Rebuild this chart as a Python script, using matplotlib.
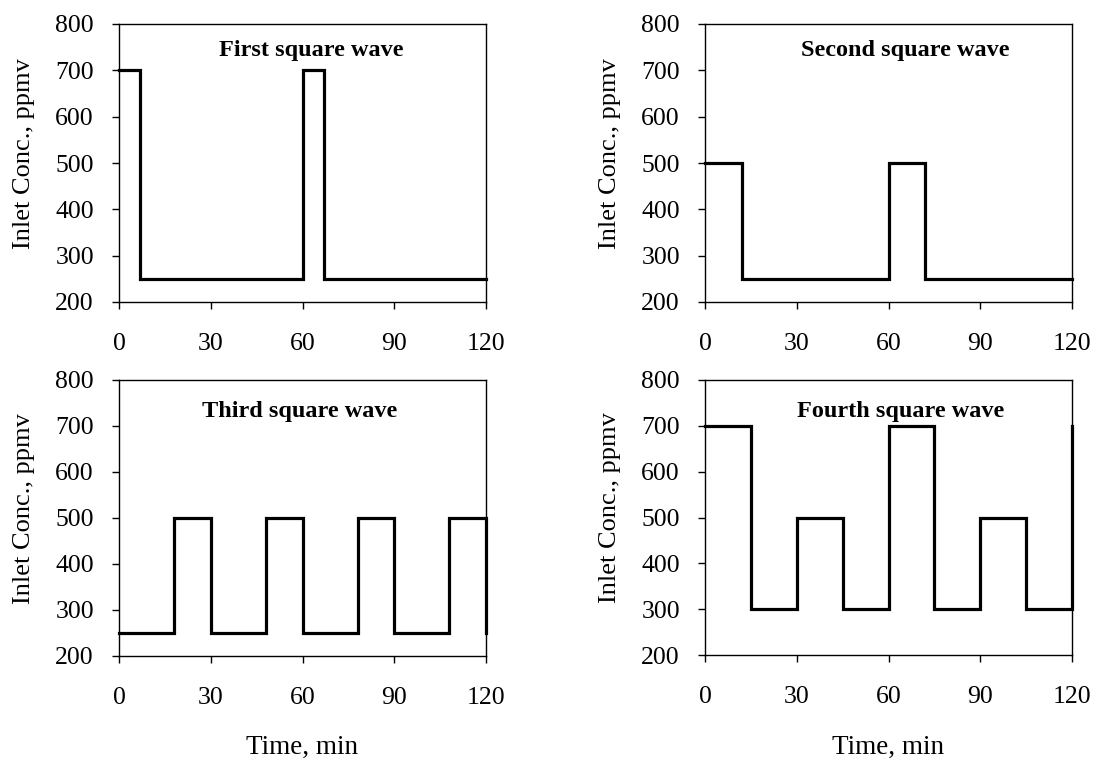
import matplotlib
matplotlib.use("Agg")
import matplotlib.pyplot as plt

plt.rcParams['font.family'] = ['Liberation Serif', 'DejaVu Serif']

# Square-wave inlet concentration profiles (time in min, concentration in ppmv)
t_first = [0, 7, 60, 67, 120]
c_first = [700, 250, 700, 250, 250]

t_second = [0, 12, 60, 72, 120]
c_second = [500, 250, 500, 250, 250]

t_third = [0, 18, 30, 48, 60, 78, 90, 108, 120]
c_third = [250, 500, 250, 500, 250, 500, 250, 500, 250]

t_fourth = [0, 15, 30, 45, 60, 75, 90, 105, 120]
c_fourth = [700, 300, 500, 300, 700, 300, 500, 300, 700]

titles = ["First square wave", "Second square wave",
          "Third square wave", "Fourth square wave"]
x_ticks = [0, 30, 60, 90, 120]
y_ticks = [200, 300, 400, 500, 600, 700, 800]

W, H = 1097, 762
fig = plt.figure(figsize=(W / 100, H / 100), dpi=100)

# panel boxes in pixels: left, top, right, bottom
boxes = [(119, 24, 486, 302), (705, 24, 1072, 302),
         (119, 380, 486, 656), (705, 380, 1072, 655)]
series = [(t_first, c_first), (t_second, c_second),
          (t_third, c_third), (t_fourth, c_fourth)]
title_x = [0.525, 0.545, 0.493, 0.533]
title_y = [0.885, 0.885, 0.866, 0.866]

for i, ((l, t, r, b), (tt, cc)) in enumerate(zip(boxes, series)):
    ax = fig.add_axes([l / W, (H - b) / H, (r - l) / W, (b - t) / H])
    ax.step(tt, cc, where='post', color='black', lw=2.3, clip_on=False,
            solid_joinstyle='miter')
    ax.set_xlim(0, 120)
    ax.set_ylim(200, 800)
    ax.set_xticks(x_ticks)
    ax.set_yticks(y_ticks)
    ax.tick_params(axis='both', direction='out', length=5, width=1,
                   labelsize=18.5, color='black')
    ax.tick_params(axis='x', pad=17.5)
    ax.tick_params(axis='y', pad=13)
    for s in ax.spines.values():
        s.set_linewidth(1.0)
        s.set_color('black')
    ax.set_ylabel("Inlet Conc., ppmv", fontsize=19)
    ax.yaxis.set_label_coords(-0.258, 0.535)
    ax.yaxis.label.set_va('center')
    ax.text(title_x[i], title_y[i], titles[i], transform=ax.transAxes,
            ha='center', va='baseline', fontsize=17.5, fontweight='bold')
    if i >= 2:
        ax.set_xlabel("Time, min", fontsize=19.5)
        ax.xaxis.label.set_va('center')
        ax.xaxis.set_label_coords(0.5, -0.33 if i == 2 else -0.335)

fig.savefig("out.png", dpi=100)
